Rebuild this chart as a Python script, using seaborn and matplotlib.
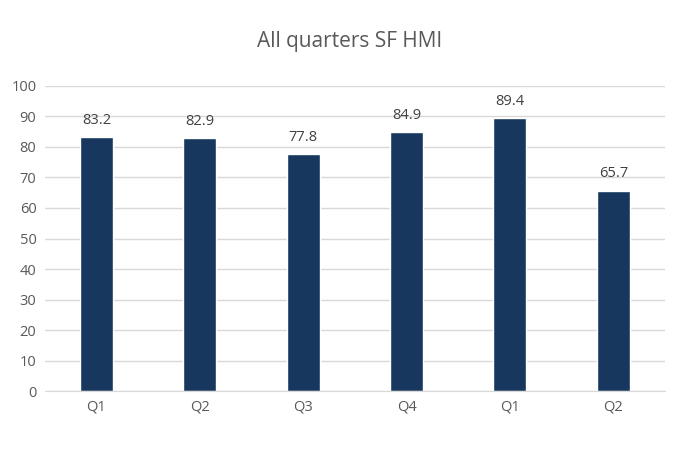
import matplotlib
matplotlib.use("Agg")
import matplotlib.pyplot as plt
import seaborn as sns
import pandas as pd

quarters = ["Q1", "Q2", "Q3", "Q4", "Q1", "Q2"]
values = [83.2, 82.9, 77.8, 84.9, 89.4, 65.7]
title = "All quarters SF HMI"

sns.set_style("white")
plt.rcParams['font.family'] = ['Open Sans', 'DejaVu Sans']

df = pd.DataFrame({"key": [str(i) for i in range(len(values))], "v": values})
fig = plt.figure(figsize=(7, 4.5), dpi=100)
ax = fig.add_axes([0.064, 0.131, 0.886, 0.678])
sns.barplot(data=df, x="key", y="v", color="#17375E", width=0.32, ax=ax, saturation=1)
ax.set_xticks(range(len(values)))
ax.set_xticklabels(quarters)
ax.set_ylim(0, 100)
ax.set_yticks(range(0, 101, 10))
ax.yaxis.grid(True, color="#D9D9D9", linewidth=1)
ax.set_axisbelow(True)
for s in ["top", "right", "left"]:
    ax.spines[s].set_visible(False)
ax.spines["bottom"].set_color("#D9D9D9")
ax.tick_params(axis="both", length=0, labelsize=10.5, colors="#595959", pad=6)
ax.set_xlabel(""); ax.set_ylabel("")
for i, v in enumerate(values):
    ax.text(i, v + 3, f"{v}", ha="center", va="bottom", fontsize=10.5, color="#404040")
fig.suptitle(title, y=0.93, fontsize=15, color="#595959")
fig.savefig("out.png", dpi=100)
